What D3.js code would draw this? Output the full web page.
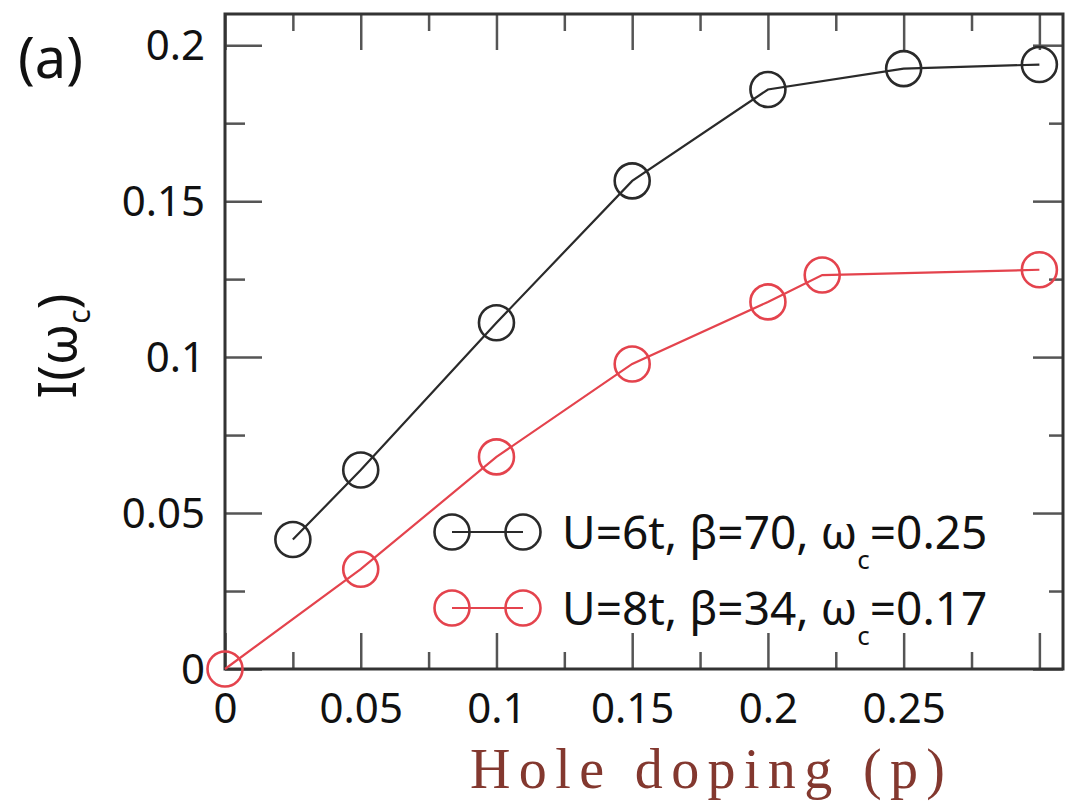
<!DOCTYPE html>
<html>
<head>
<meta charset="utf-8">
<script src="https://cdn.jsdelivr.net/npm/d3@7"></script>
<style>
  body { margin: 0; background: #fff; }
  svg text { font-family: "Noto Sans", "Open Sans", sans-serif; }
</style>
</head>
<body>
<div id="chart"></div>
<script>
// data
const dopingU6 = [0.025, 0.05, 0.1, 0.15, 0.2, 0.25, 0.3];
const intensityU6 = [0.0415, 0.0638, 0.111, 0.1565, 0.1858, 0.1925, 0.1938];
const dopingU8 = [0, 0.05, 0.1, 0.15, 0.2, 0.22, 0.3];
const intensityU8 = [0, 0.032, 0.068, 0.0978, 0.1177, 0.1263, 0.128];
const seriesNames = ['U=6t, \u03b2=70, \u03c9', 'U=8t, \u03b2=34, \u03c9'];
const seriesTail = ['=0.25', '=0.17'];
const seriesColors = ['#2a2a2a', '#e4434d'];
const xMajor = [0, 0.05, 0.1, 0.15, 0.2, 0.25, 0.3];
const xMinor = [0.025, 0.075, 0.125, 0.175, 0.225, 0.275];
const xLabels = ['0', '0.05', '0.1', '0.15', '0.2', '0.25', ''];
const yMajor = [0, 0.05, 0.1, 0.15, 0.2];
const yMinor = [0.025, 0.075, 0.125, 0.175];
const yLabels = ['0', '0.05', '0.1', '0.15', '0.2'];

var width = 1066,
    height = 809,
    margin = {left: 225, top: 14, right: 3, bottom: 140};

var x = d3.scaleLinear().domain([0, 0.3087]).range([margin.left, width - margin.right]);
var y = d3.scaleLinear().domain([0, 0.21]).range([height - margin.bottom, margin.top]);

var svg = d3.select('#chart').append('svg')
    .attr('width', width)
    .attr('height', height);

// inward ticks on all four sides
function tickAxis(axisFn, scale, values, size, labels) {
    return axisFn(scale).tickValues(values).tickSizeInner(-size).tickSizeOuter(0)
        .tickFormat(labels ? (d, i) => labels[i] : '');
}

var y0 = y(0), x0 = x(0), x1 = width - margin.right, y1 = margin.top;

function addAxis(gen, tx, ty) {
    var g = svg.append('g').attr('transform', `translate(${tx},${ty})`).call(gen);
    g.select('.domain').remove();
    g.selectAll('.tick line').attr('stroke', '#555').attr('stroke-width', 2.5);
    return g;
}

var bx = addAxis(tickAxis(d3.axisBottom, x, xMajor, 36, xLabels), 0, y0);
addAxis(tickAxis(d3.axisBottom, x, xMinor, 17), 0, y0);
addAxis(tickAxis(d3.axisTop, x, xMajor, 36), 0, y1);
addAxis(tickAxis(d3.axisTop, x, xMinor, 17), 0, y1);
var ly = addAxis(tickAxis(d3.axisLeft, y, yMajor, 37, yLabels), x0, 0);
addAxis(tickAxis(d3.axisLeft, y, yMinor, 20), x0, 0);
addAxis(tickAxis(d3.axisRight, y, yMajor, 30), x1, 0);
addAxis(tickAxis(d3.axisRight, y, yMinor, 14), x1, 0);

bx.selectAll('.tick text')
    .attr('y', 24).attr('dy', '0.71em')
    .attr('font-size', 42).attr('fill', '#111');
ly.selectAll('.tick text')
    .attr('x', -20).attr('dy', '0.34em')
    .attr('font-size', 42).attr('fill', '#111');

// frame
svg.append('rect')
    .attr('x', x0).attr('y', y1)
    .attr('width', x1 - x0).attr('height', y0 - y1)
    .attr('fill', 'none').attr('stroke', '#333').attr('stroke-width', 3);

var line = d3.line().x(d => x(d[0])).y(d => y(d[1]));

var series = [
    d3.zip(dopingU6, intensityU6),
    d3.zip(dopingU8, intensityU8)
];

series.forEach(function(pts, k) {
    svg.append('path')
        .datum(pts)
        .attr('d', line)
        .attr('fill', 'none')
        .attr('stroke', seriesColors[k])
        .attr('stroke-width', 2.2);
    svg.append('g').selectAll('circle')
        .data(pts)
        .enter()
        .append('circle')
        .attr('cx', d => x(d[0]))
        .attr('cy', d => y(d[1]))
        .attr('r', 17.5)
        .attr('fill', 'none')
        .attr('stroke', seriesColors[k])
        .attr('stroke-width', 2.6);
});

// legend
var legendY = [532, 608];
series.forEach(function(pts, k) {
    var g = svg.append('g').attr('transform', `translate(452,${legendY[k]})`);
    g.append('line').attr('x1', 0).attr('x2', 71)
        .attr('stroke', seriesColors[k]).attr('stroke-width', 2.2);
    g.selectAll('circle').data([0, 71]).enter().append('circle')
        .attr('cx', d => d).attr('r', 17.5)
        .attr('fill', 'none').attr('stroke', seriesColors[k]).attr('stroke-width', 2.6);
    var t = g.append('text').attr('x', 110).attr('y', 17)
        .attr('font-size', 46).attr('fill', '#111');
    t.append('tspan').text(seriesNames[k]);
    t.append('tspan').attr('font-size', 26).attr('dy', 20).text('c');
    t.append('tspan').attr('dy', -20).text(seriesTail[k]);
});

// axis titles
svg.append('text')
    .attr('x', 470)
    .attr('y', 788)
    .attr('font-size', 56)
    .attr('fill', '#83382f')
    .attr('textLength', 475)
    .attr('lengthAdjust', 'spacing')
    .style('font-family', '"Liberation Serif", "DejaVu Serif", serif')
    .text('Hole doping (p)');

var yl = svg.append('text')
    .attr('transform', 'translate(76,346) rotate(-90)')
    .attr('text-anchor', 'middle')
    .attr('font-size', 52)
    .attr('fill', '#111');
yl.append('tspan').text('I(\u03c9');
yl.append('tspan').attr('font-size', 30).attr('dy', 14).text('c');
yl.append('tspan').attr('dy', -14).text(')');

svg.append('text')
    .attr('x', 18).attr('y', 78)
    .attr('font-size', 56)
    .attr('fill', '#111')
    .text('(a)');
</script>
</body>
</html>
